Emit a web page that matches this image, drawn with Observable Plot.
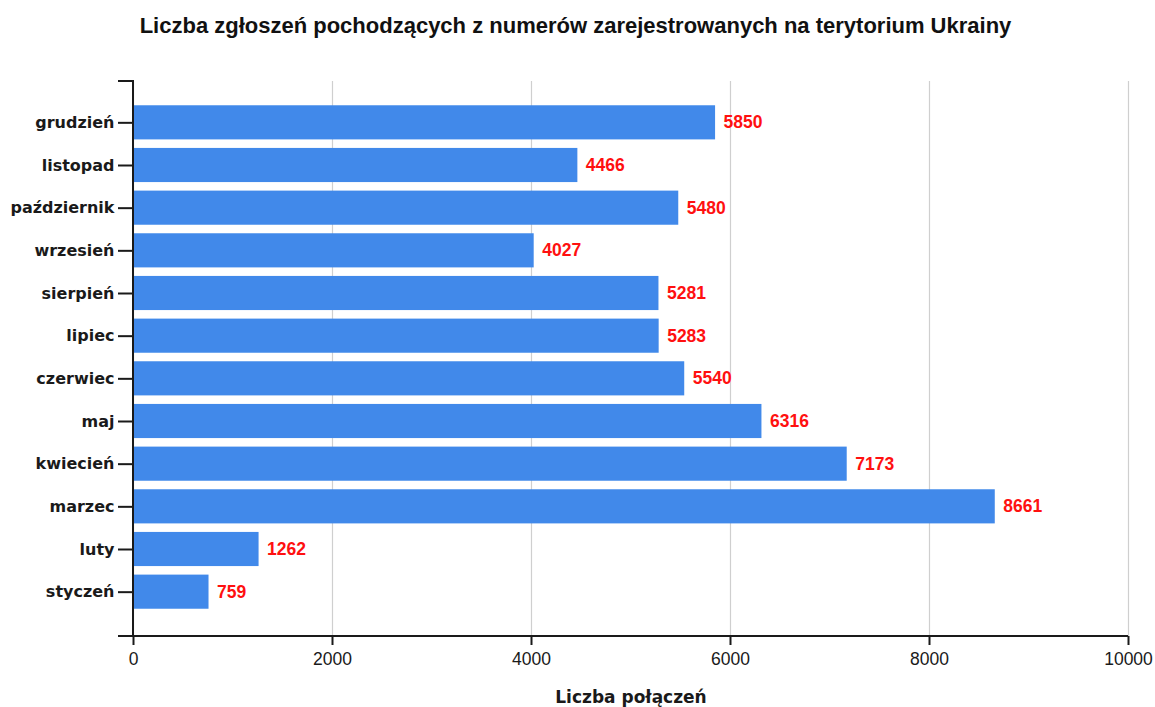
<!DOCTYPE html>
<html>
<head>
<meta charset="utf-8">
<script src="https://cdn.jsdelivr.net/npm/d3@7"></script>
<script src="https://cdn.jsdelivr.net/npm/@observablehq/plot@0.6"></script>
<style>
  html, body { margin: 0; padding: 0; background: #fff; }
  #title {
    box-sizing: border-box;
    height: 50px;
    padding-top: 15px;
    padding-right: 4px;
    font: bold 22px "Liberation Sans", Arial, sans-serif;
    line-height: 22px;
    color: #111;
    text-align: center;
    width: 1155px;
  }
  #chart svg { display: block; }
</style>
</head>
<body>
<div id="title">Liczba zgłoszeń pochodzących z numerów zarejestrowanych na terytorium Ukrainy</div>
<div id="chart"></div>
<script>
const months = ["grudzień", "listopad", "październik", "wrzesień", "sierpień", "lipiec", "czerwiec", "maj", "kwiecień", "marzec", "luty", "styczeń"];
const calls = [5850, 4466, 5480, 4027, 5281, 5283, 5540, 6316, 7173, 8661, 1262, 759];
const xTicks = [0, 2000, 4000, 6000, 8000, 10000];
const xLabel = "Liczba połączeń";

(function () {
const data = months.map((m, i) => ({month: m, value: calls[i]}));

const W = 1155, H = 657, MT = 31, MB = 71, ML = 133, MR = 27;

const chart = Plot.plot({
  width: W,
  height: H,
  marginTop: MT,
  marginBottom: MB,
  marginLeft: ML,
  marginRight: MR,
  style: {background: "#fff", overflow: "visible"},
  x: {domain: [0, 10000], label: null},
  y: {domain: months, label: null, insetTop: 20, insetBottom: 23, paddingInner: 0.2, paddingOuter: 0.1, round: false},
  marks: [
    Plot.gridX(xTicks, {stroke: "#cfcfcf", strokeOpacity: 1, strokeWidth: 1.2}),
    Plot.barX(data, {x: "value", y: "month", fill: "#4189ea"}),
    Plot.text(data, {
      x: "value", y: "month", text: d => String(d.value),
      dx: 8, textAnchor: "start", fill: "#ff1010",
      fontWeight: "bold", fontSize: 17.5, fontFamily: "Liberation Sans, Arial, sans-serif"
    }),
    Plot.axisY({
      tickSize: 15, tickPadding: 4, strokeWidth: 2, color: "#1a1a1a",
      fontSize: 16, fontWeight: "bold", fontFamily: "DejaVu Sans, Verdana, sans-serif"
    }),
    Plot.axisX({
      ticks: xTicks, tickFormat: d => String(d), tickSize: 9, tickPadding: 7, strokeWidth: 2, color: "#1a1a1a",
      fontSize: 17.5, fontFamily: "Liberation Sans, Arial, sans-serif", label: null
    }),
    Plot.text([xLabel], {
      frameAnchor: "bottom", dy: 66, text: d => d, fill: "#1a1a1a",
      fontWeight: "bold", fontSize: 17, fontFamily: "DejaVu Sans, Verdana, sans-serif"
    })
  ]
});

// axis lines (domain paths) positioned from the chart's own x scale
const sx = chart.scale("x");
const x0 = sx.apply(xTicks[0]);
const x1 = sx.apply(xTicks[xTicks.length - 1]);
const yTop = MT, yBottom = H - MB;
d3.select(chart).append("path")
  .attr("d", `M${x0 - 15},${yTop}H${x0}V${yBottom}M${x0 - 15},${yBottom}H${x1}`)
  .attr("fill", "none")
  .attr("stroke", "#1a1a1a")
  .attr("stroke-width", 2);

document.getElementById("chart").appendChild(chart);
})();
</script>
</body>
</html>
